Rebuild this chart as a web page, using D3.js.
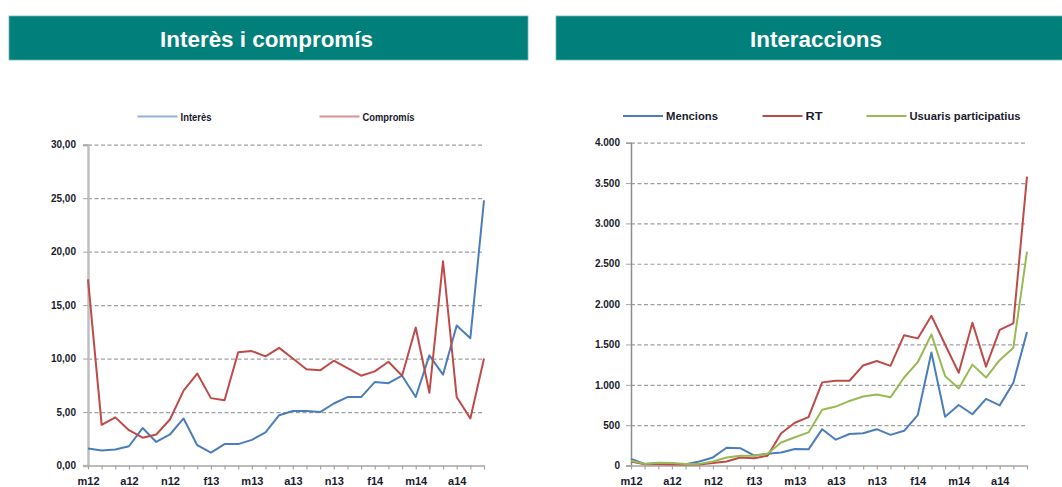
<!DOCTYPE html>
<html><head><meta charset="utf-8">
<script src="https://cdn.jsdelivr.net/npm/d3@7"></script>
<style>body{margin:0;background:#fff}svg{display:block}</style>
</head><body><svg id="c" width="1062" height="487"></svg>
<script>
// Months May 2012 – Oct 2014 (Catalan abbreviations)
const months = ["m12","j12","j12","a12","s12","o12","n12","d12","g13","f13","m13","a13","m13","j13","j13","a13","s13","o13","n13","d13","g14","f14","m14","a14","m14","j14","j14","a14","s14","o14"];

// Left chart: Interès i compromís
const interes   = [1.6,1.4,1.5,1.8,3.5,2.2,2.9,4.4,1.9,1.2,2.0,2.0,2.4,3.1,4.7,5.1,5.1,5.0,5.8,6.4,6.4,7.8,7.7,8.4,6.4,10.3,8.5,13.1,11.9,24.8];
const compromis = [17.4,3.8,4.5,3.3,2.6,2.9,4.3,7.0,8.6,6.3,6.1,10.6,10.7,10.2,11.0,10.0,9.0,8.9,9.8,9.1,8.4,8.8,9.7,8.4,12.9,6.8,19.1,6.4,4.4,10.0];
const leftTicks = [0,5,10,15,20,25,30];

// Right chart: Interaccions
const mencions = [82,20,30,20,15,50,100,220,215,125,145,160,205,200,450,320,390,400,450,380,430,625,1400,605,750,635,825,745,1025,1655];
const rt       = [50,15,15,12,12,12,30,50,100,90,120,400,530,600,1030,1050,1050,1240,1295,1235,1615,1575,1855,1500,1150,1770,1225,1680,1760,3580];
const usuaris  = [60,20,35,30,20,20,50,100,120,120,145,285,350,410,690,730,800,855,880,845,1090,1280,1625,1110,955,1250,1090,1305,1460,2650];
const rightTicks = [0,500,1000,1500,2000,2500,3000,3500,4000];

const loc = d3.formatLocale({decimal:",", thousands:".", grouping:[3], currency:["","€"]});
const fmtLeft = loc.format(",.2f");
const fmtRight = loc.format(",d");

const BLUE="#4A7EBB", RED="#BE4B48", GREEN="#98B954", TEAL="#007F7B";
const FONT="Liberation Sans, Arial, sans-serif";
const svg = d3.select("#c");

// Header bars
const headers = [
  {x:9, w:519, cx:266.5, text:"Interès i compromís"},
  {x:556, w:520, cx:816, text:"Interaccions"}
];
headers.forEach(h=>{
  svg.append("rect").attr("x",h.x).attr("y",16).attr("width",h.w).attr("height",44)
    .attr("fill",TEAL).attr("stroke","#6cb8b5").attr("stroke-width",0.8);
  svg.append("text").attr("x",h.cx).attr("y",46.5).attr("text-anchor","middle")
    .attr("font-family",FONT).attr("font-weight","bold")
    .attr("font-size",22.4).attr("fill","#fff").text(h.text);
});

function drawChart(cfg){
  const g = svg.append("g");
  const x = d3.scalePoint().domain(d3.range(months.length)).range([cfg.x0,cfg.x1]);
  const y = d3.scaleLinear().domain([0,cfg.max]).range([cfg.yb,cfg.yt]);
  const w = cfg.x1 - cfg.x0;

  // gridlines
  const grid = g.append("g").attr("transform",`translate(${cfg.x0},0)`)
    .call(d3.axisLeft(y).tickValues(cfg.ticks.filter(t=>t>0)).tickSize(-w).tickFormat(""));
  grid.select(".domain").remove();
  grid.selectAll("line").attr("stroke","#a0a0a0").attr("stroke-width",1.2).attr("stroke-dasharray","4,2.5");

  // y axis
  const ya = g.append("g").attr("transform",`translate(${cfg.x0},0)`)
    .call(d3.axisLeft(y).tickValues(cfg.ticks).tickSize(5).tickPadding(cfg.ypad).tickFormat(cfg.fmt));
  ya.select(".domain").attr("stroke",cfg.axisColor).attr("stroke-width",cfg.axisW);
  ya.selectAll("line").attr("stroke","#a6a6a6");
  ya.selectAll("text").attr("font-family",FONT)
    .attr("font-weight","bold").attr("font-size",10).attr("fill","#1a1a2e");

  // x axis
  const xa = g.append("g").attr("transform",`translate(0,${cfg.yb})`)
    .call(d3.axisBottom(x).tickSize(4).tickPadding(8).tickSizeOuter(0)
      .tickFormat(i => i%3===0 ? months[i] : ""));
  xa.select(".domain").attr("stroke","#a6a6a6").attr("stroke-width",1.5);
  xa.selectAll("line").attr("stroke","#a6a6a6").attr("stroke-width",1.2);
  xa.selectAll("text").attr("font-family",FONT)
    .attr("font-weight","bold").attr("font-size",11).attr("fill","#1a1a2e");

  // lines
  const line = d3.line().x((d,i)=>x(i)).y(d=>y(d));
  cfg.series.forEach(s=>{
    g.append("path").datum(s.values).attr("d",line).attr("fill","none")
      .attr("stroke",s.color).attr("stroke-width",2).attr("stroke-linejoin","round");
  });

  // legend
  cfg.series.forEach(s=>{
    g.append("line").attr("x1",s.lx).attr("x2",s.lx+40).attr("y1",cfg.ly).attr("y2",cfg.ly)
      .attr("stroke",s.color).attr("stroke-width",2).attr("opacity",s.legOp||1);
    const t = g.append("text").attr("x",s.lx+43).attr("y",cfg.ly+4)
      .attr("font-family",FONT).attr("font-weight","bold")
      .attr("font-size",11).attr("fill","#1a1a2e").text(s.name);
    if (s.tl) t.attr("textLength",s.tl).attr("lengthAdjust","spacingAndGlyphs");
  });
}

drawChart({
  x0:88, x1:484, yb:465.5, yt:144.7, max:30, ticks:leftTicks, fmt:fmtLeft, ypad:7,
  axisColor:"#bfbfbf", axisW:2.5, ly:116.5,
  series:[
    {name:"Interès", values:interes, color:BLUE, lx:137.5, tl:31, legOp:0.6},
    {name:"Compromís", values:compromis, color:RED, lx:319.5, tl:52, legOp:0.6}
  ]
});

drawChart({
  x0:631, x1:1027, yb:465.5, yt:142.7, max:4000, ticks:rightTicks, fmt:fmtRight, ypad:6,
  axisColor:"#8c8c8c", axisW:1.5, ly:116,
  series:[
    {name:"Mencions", values:mencions, color:BLUE, lx:623, tl:52},
    {name:"RT", values:rt, color:RED, lx:762.5, tl:17},
    {name:"Usuaris participatius", values:usuaris, color:GREEN, lx:866.5, tl:111}
  ]
});
</script></body></html>
